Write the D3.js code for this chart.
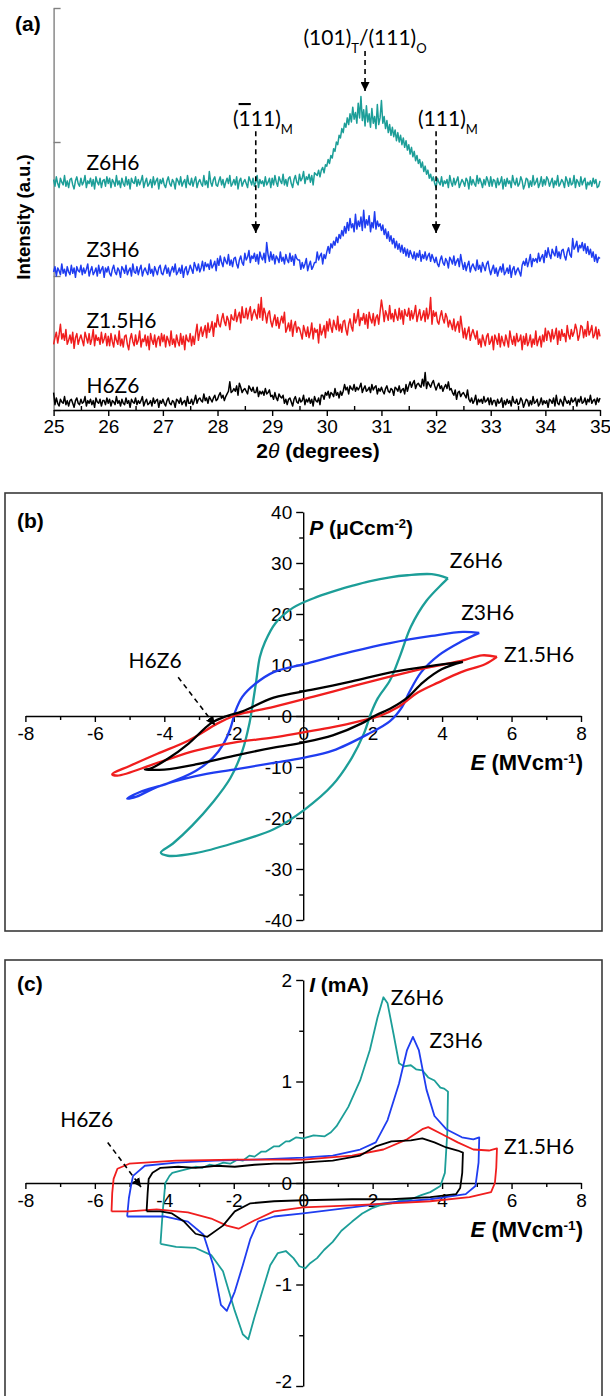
<!DOCTYPE html>
<html>
<head>
<meta charset="utf-8">
<script src="https://cdnjs.cloudflare.com/ajax/libs/d3/7.8.5/d3.min.js"></script>
<style>
  body { margin: 0; background: #fff; }
  text { font-family: "Liberation Sans", Arial, sans-serif; }
</style>
</head>
<body>
<div id="chart"></div>
<script>
// ---------- (a) XRD, 2theta from 25 to 35 in steps of 0.025 deg (a.u., offset as plotted)
var xrdStart = 25, xrdStep = 0.025;

var xrdZ6H6 = [
  172,167,174,169,166,173,170,168,175,167,171,166,172,173,168,165,171,174,169,167,173,168,170,175,166,171,169,173,167,172,165,174,170,168,173,166,171,172,167,174,
  169,173,166,172,170,167,175,168,171,166,173,169,167,174,168,172,165,173,170,169,174,167,172,168,171,175,166,170,173,167,169,172,166,174,168,171,173,165,172,169,
  173,168,166,171,174,169,167,172,170,165,173,171,168,174,167,170,172,166,175,169,168,173,167,171,174,166,170,172,169,167,175,168,171,166,178,170,167,172,174,168,
  167,171,174,168,172,166,170,173,169,175,167,169,172,168,174,165,171,173,167,170,172,169,166,174,171,168,173,167,170,175,166,172,169,171,167,174,168,170,173,166,
  173,168,175,170,167,174,171,169,176,168,172,167,173,174,169,166,172,175,170,168,176,171,173,178,169,174,172,176,170,175,168,177,176,175,179,174,179,181,177,183,
  182,187,184,190,188,195,193,200,198,205,203,210,207,214,211,218,213,221,215,226,217,222,214,229,218,234,216,224,212,227,215,221,211,225,214,219,210,228,213,218,
  231,214,219,210,216,207,213,205,211,204,209,201,207,200,205,198,203,196,201,194,198,191,196,189,193,186,190,184,187,181,185,178,182,176,179,173,176,171,174,169,
  166,173,170,168,174,167,171,169,172,166,175,170,167,173,168,171,174,166,169,172,170,167,173,171,165,174,168,172,169,167,175,169,173,170,166,172,168,174,171,167,
  174,167,172,171,166,173,168,170,174,165,172,167,173,169,171,166,175,170,168,173,167,169,174,171,165,168,173,172,166,171,167,175,168,170,173,166,169,174,167,172,
  168,174,172,167,170,173,166,171,168,175,167,169,172,170,166,174,171,167,173,168,169,175,166,172,170,167,174,168,171,173,165,170,168,171,167,173,169,172,166,167,
  171
];

var xrdZ3H6 = [
  103,107,100,106,104,101,109,102,105,100,107,103,101,108,102,106,99,107,104,103,108,101,106,102,105,109,100,104,107,101,103,106,100,108,102,105,107,99,106,103,
  107,102,100,105,108,103,101,106,104,99,107,105,102,108,101,104,106,100,109,103,102,107,101,105,108,100,104,106,103,101,109,102,105,100,107,104,101,106,108,102,
  101,105,108,102,106,100,104,107,103,109,101,103,106,102,108,99,105,107,101,104,108,105,102,110,107,104,109,103,106,111,104,110,107,109,105,112,106,108,111,104,
  113,108,115,110,107,114,111,109,116,108,112,107,113,114,109,106,112,115,110,108,117,112,114,119,110,115,113,117,111,116,109,118,114,112,117,110,125,116,111,118,
  112,116,109,115,113,110,118,111,114,109,116,112,110,117,111,115,108,116,113,112,112,105,110,106,109,113,104,108,111,105,107,110,110,118,112,115,117,109,116,113,
  118,122,117,124,121,126,123,129,125,131,128,134,130,137,132,140,134,143,136,139,133,146,135,141,137,144,134,149,136,142,138,145,133,140,136,148,135,141,137,139,
  134,138,131,135,128,133,126,130,124,128,121,126,120,124,118,123,117,121,115,120,114,119,116,113,118,112,117,114,119,111,116,113,118,112,115,117,111,116,113,110,
  114,109,107,112,115,110,108,113,111,106,114,112,109,115,108,111,113,107,116,110,105,110,104,108,111,103,107,109,106,104,112,105,108,103,110,107,104,109,111,105,
  101,105,108,102,106,100,104,107,103,109,101,103,106,102,108,99,105,107,101,104,106,103,100,108,111,108,113,107,111,116,107,113,111,113,110,117,111,114,116,110,
  119,114,121,116,113,120,117,115,122,114,118,113,119,120,115,112,118,121,116,114,128,120,122,126,118,123,121,125,119,124,117,122,116,120,114,118,111,116,110,114,
  113
];

var xrdZ15H6 = [
  49,54,58,50,56,64,53,57,52,60,49,52,56,50,58,46,54,57,49,53,56,52,48,58,54,50,57,49,53,60,48,56,52,54,49,58,50,53,57,48,
  55,48,57,51,47,56,52,49,59,48,53,47,55,56,49,45,53,57,51,48,56,49,52,59,47,53,51,56,48,55,45,57,52,49,56,47,53,55,48,57,
  51,56,47,55,52,48,59,49,53,47,56,51,48,57,49,55,45,56,52,51,57,48,55,49,57,64,52,58,62,55,59,63,54,65,58,61,66,55,65,62,
  71,64,62,68,72,66,63,70,67,60,71,68,67,75,66,70,73,65,77,69,69,76,68,73,77,67,72,75,71,68,79,69,84,67,76,72,65,72,74,66,
  62,67,71,63,69,61,66,70,65,73,58,61,65,59,67,55,63,66,58,62,61,57,53,63,59,55,62,54,58,65,53,61,58,60,50,64,56,59,63,54,
  66,59,68,62,58,67,63,60,70,59,64,58,66,67,60,56,64,68,62,59,72,65,68,75,63,69,67,72,64,71,61,73,68,65,72,63,69,71,64,73,
  82,75,66,74,71,67,78,68,72,66,75,70,67,76,68,74,64,75,71,70,76,67,74,68,72,78,66,71,75,67,70,74,66,76,68,72,84,64,74,70,
  73,66,64,70,74,68,65,72,69,62,67,64,60,68,59,63,66,58,70,62,54,61,53,58,62,52,57,60,56,53,59,49,53,47,56,52,48,55,57,49,
  51,55,45,56,53,49,57,47,55,51,48,56,52,47,59,53,49,55,48,57,51,52,56,45,55,49,57,48,51,56,47,53,49,59,48,52,55,47,56,51,
  61,52,59,57,51,60,53,56,61,49,59,52,60,55,57,51,63,56,53,60,55,58,64,60,52,56,63,62,54,60,55,66,56,59,63,54,56,62,53,60,
  55
];

var xrdH6Z6 = [
  13,4,9,5,3,8,6,5,10,4,7,3,7,8,5,2,7,9,5,4,8,5,6,10,3,7,5,8,4,7,2,9,6,5,8,3,7,7,4,9,
  5,8,3,7,6,4,10,5,7,3,8,5,4,9,5,7,2,8,6,5,9,4,7,5,7,10,3,6,8,4,5,7,3,9,5,7,8,2,7,5,
  8,5,3,7,9,5,4,7,6,2,8,7,5,9,4,6,7,3,10,5,5,8,4,7,11,5,8,9,7,6,12,7,9,5,10,8,6,9,11,7,
  8,11,13,9,11,7,10,12,14,21,13,14,16,14,18,11,20,17,13,15,16,14,12,18,16,14,17,13,13,17,10,14,12,14,11,16,12,13,15,10,
  11,8,13,9,7,12,10,9,11,5,8,4,8,9,6,3,8,10,6,5,9,6,7,11,4,8,6,9,5,8,3,10,7,6,9,4,11,11,8,13,
  11,14,9,13,12,10,16,11,13,9,14,11,14,19,15,17,12,18,16,15,19,14,17,15,17,20,13,16,18,14,15,17,13,19,15,17,18,12,16,14,
  17,14,12,16,18,14,13,16,15,11,17,16,14,18,13,15,16,12,19,14,18,21,17,20,22,16,19,20,18,17,23,18,28,16,21,19,17,20,22,18,
  15,18,20,16,18,14,17,19,16,21,15,16,13,11,15,8,13,14,10,12,13,11,9,15,8,6,9,5,7,11,4,8,6,8,5,10,6,7,9,4,
  9,4,7,7,3,8,5,6,9,2,7,4,8,5,7,3,10,6,5,8,4,5,9,7,2,5,8,7,3,7,4,10,5,6,8,3,5,9,4,7,
  5,7,2,8,7,5,9,3,11,5,4,8,6,3,10,7,5,7,4,9,6,7,9,3,8,6,10,5,6,9,4,8,6,11,5,7,8,4,9,6,
  9
];

var xrdTicks = [25, 26, 27, 28, 29, 30, 31, 32, 33, 34, 35];
var xrdPeaks = [28.7, 30.7, 32.0];

// ---------- (b) P-E loops, [E (MV/cm), P (uC/cm2)]
var peZ6H6 = [[4.17,27.0],[3.7,27.8],[3.0,27.6],[2.5,27.2],[1.9,26.4],[1.4,25.5],[0.8,24.3],[0.3,23.1],
  [-0.3,21.2],[-0.8,18.2],[-1.1,14.5],[-1.25,11.5],[-1.35,7.0],[-1.45,2.5],[-1.55,-1.5],[-1.75,-6.8],
  [-2.1,-12.2],[-2.6,-16.9],[-3.2,-21.5],[-3.75,-25.0],[-4.1,-26.8],[-3.9,-27.4],[-3.1,-26.9],[-2.0,-24.9],
  [-0.85,-22.2],[0.05,-18.3],[0.85,-13.5],[1.4,-8.2],[1.75,-3.4],[1.95,0.5],[2.15,3.5],[2.5,7.0],
  [2.8,12.0],[3.1,17.5],[3.55,22.6],[4.17,27.0]];
var peZ3H6 = [[5.07,16.3],[4.6,16.5],[3.7,15.7],[2.5,14.3],[1.4,12.6],[0.05,10.2],[-0.85,8.6],[-1.4,6.2],
  [-1.75,3.8],[-1.95,1.0],[-2.1,-2.5],[-2.3,-5.5],[-2.6,-8.2],[-3.1,-10.8],[-3.9,-13.2],[-4.7,-14.9],
  [-5.07,-16.2],[-4.8,-15.8],[-4.2,-13.9],[-3.1,-11.8],[-2.0,-10.5],[-0.85,-9.2],[0,-8.2],[0.85,-6.8],
  [1.85,-3.6],[2.5,-1.0],[2.85,1.8],[3.05,4.6],[3.4,8.6],[3.9,11.9],[4.55,14.6],[5.07,16.3]];
var peZ15H6 = [[5.58,11.6],[5.15,11.9],[4.55,10.8],[3.65,9.6],[2.55,7.8],[1.4,5.8],[0.3,3.8],[-0.85,1.8],
  [-1.75,0.5],[-2.0,0],[-2.45,-1.4],[-3.3,-4.8],[-4.2,-7.4],[-5.0,-9.8],[-5.5,-11.4],[-5.35,-11.7],
  [-4.2,-9.2],[-3.1,-6.8],[-2.0,-5.2],[-0.85,-4.2],[0,-3.2],[0.85,-2.2],[1.75,-0.8],[2.2,0],
  [2.75,1.8],[3.3,4.6],[3.9,6.6],[4.55,8.6],[5.25,10.2],[5.58,11.6]];
var peH6Z6 = [[4.6,10.6],[3.65,9.8],[2.55,8.6],[1.4,6.8],[0.3,5.2],[-0.85,3.6],[-1.75,0.9],[-2.2,0],
  [-2.65,-1.4],[-3.3,-5.4],[-3.9,-8.4],[-4.4,-10.3],[-4.56,-10.5],[-4.0,-10.5],[-3.1,-9.5],[-2.0,-7.8],
  [-0.85,-6.2],[0,-5.2],[0.85,-3.8],[1.7,-1.4],[2.05,0],[2.55,1.6],[3.0,3.6],[3.45,6.6],[4.0,9.2],[4.6,10.6]];

// ---------- (c) I-E curves, [E (MV/cm), I (mA)]
var ieZ6H6 = [[-4.11,-0.6],[-4.05,-0.3],[-3.97,0],[-3.85,0.07],[-3.77,0.1],[-3.55,0.12],[-3.32,0.14],[-3.1,0.16],
  [-2.9,0.15],[-2.7,0.18],[-2.54,0.17],[-2.3,0.2],[-2.1,0.19],[-1.9,0.23],[-1.74,0.22],[-1.55,0.27],[-1.4,0.26],
  [-1.2,0.31],[-1.07,0.31],[-0.85,0.36],[-0.7,0.36],[-0.5,0.41],[-0.4,0.41],[-0.2,0.45],[0,0.44],[0.3,0.47],
  [0.62,0.46],[0.8,0.5],[0.96,0.56],[1.3,0.75],[1.64,1.01],[1.92,1.31],[2.14,1.63],[2.31,1.83],[2.43,1.77],
  [2.6,1.47],[2.76,1.18],[2.9,1.15],[3.1,1.16],[3.25,1.12],[3.43,1.11],[3.6,1.04],[3.78,1.01],[3.95,0.94],
  [4.06,0.93],[4.17,0.9],[4.15,0.5],[4.08,0.1],[3.95,-0.03],[3.66,-0.09],[3.4,-0.12],[3.1,-0.16],[2.8,-0.17],
  [2.54,-0.2],[2.2,-0.22],[1.97,-0.25],[1.7,-0.3],[1.41,-0.38],[1.1,-0.47],[0.85,-0.58],[0.6,-0.66],[0.4,-0.74],
  [0.2,-0.79],[0.06,-0.84],[-0.11,-0.82],[-0.28,-0.74],[-0.5,-0.67],[-0.73,-0.69],[-0.95,-0.81],[-1.18,-1.07],
  [-1.41,-1.33],[-1.58,-1.54],[-1.74,-1.49],[-1.97,-1.26],[-2.31,-0.87],[-2.65,-0.71],[-3.1,-0.64],
  [-3.66,-0.63],[-4.11,-0.6]];
var ieZ3H6 = [[-5.07,-0.33],[-5.02,-0.15],[-4.96,-0.03],[-4.9,0.07],[-4.56,0.17],[-3.66,0.2],[-2.54,0.22],
  [-1.41,0.23],[0,0.25],[0.85,0.27],[1.64,0.33],[2.09,0.4],[2.43,0.62],[2.76,0.98],[2.99,1.31],[3.16,1.44],
  [3.33,1.31],[3.55,0.92],[3.78,0.66],[4.12,0.53],[4.57,0.45],[4.9,0.43],[5.07,0.45],[5.05,0.2],[4.96,-0.03],
  [4.68,-0.11],[3.66,-0.16],[2.54,-0.19],[1.41,-0.24],[0,-0.3],[-0.84,-0.33],[-1.3,-0.38],[-1.52,-0.55],
  [-1.74,-0.81],[-1.97,-1.07],[-2.2,-1.26],[-2.37,-1.2],[-2.59,-0.81],[-2.87,-0.51],[-3.32,-0.38],
  [-4.0,-0.33],[-4.79,-0.33],[-5.07,-0.33]];
var ieZ15H6 = [[-5.52,-0.28],[-5.5,-0.1],[-5.46,0.04],[-5.35,0.14],[-5.01,0.19],[-3.66,0.22],[-1.97,0.23],
  [0,0.23],[1.41,0.27],[2.31,0.33],[2.99,0.43],[3.43,0.53],[3.6,0.55],[4.0,0.48],[4.45,0.4],[4.9,0.33],
  [5.35,0.32],[5.58,0.34],[5.56,0.15],[5.52,0.0],[5.41,-0.09],[4.79,-0.14],[3.66,-0.18],[2.54,-0.2],
  [1.41,-0.22],[0,-0.24],[-0.84,-0.28],[-1.41,-0.37],[-1.86,-0.45],[-2.2,-0.42],[-2.65,-0.35],
  [-3.32,-0.29],[-4.22,-0.26],[-5.01,-0.28],[-5.52,-0.28]];
var ieH6Z6 = [[-4.51,-0.28],[-4.48,-0.1],[-4.45,0.04],[-4.34,0.1],[-4.11,0.15],[-3.6,0.16],[-3.1,0.15],
  [-2.5,0.17],[-1.97,0.16],[-1.4,0.18],[-0.84,0.19],[-0.4,0.19],[0,0.2],[0.4,0.21],[0.85,0.22],[1.64,0.27],
  [2.09,0.36],[2.54,0.41],[3.1,0.42],[3.43,0.44],[3.78,0.4],[4.12,0.35],[4.45,0.32],[4.6,0.3],[4.58,0.1],
  [4.52,-0.05],[4.4,-0.11],[3.66,-0.14],[2.54,-0.16],[1.41,-0.16],[0,-0.17],[-0.84,-0.18],[-1.52,-0.2],
  [-1.97,-0.28],[-2.31,-0.42],[-2.76,-0.53],[-3.1,-0.5],[-3.43,-0.38],[-3.78,-0.3],[-4.11,-0.28],[-4.51,-0.28]];

var eTicks = [-8, -6, -4, -2, 0, 2, 4, 6, 8];
var eMinor = [-7, -5, -3, -1, 1, 3, 5, 7];
var pTicks = [-40, -30, -20, -10, 0, 10, 20, 30, 40];
var pMinor = [-35, -25, -15, -5, 5, 15, 25, 35];
var iTicks = [-2, -1, 0, 1, 2];
var iMinor = [-1.5, -0.5, 0.5, 1.5];

// Some global parameters
var width = 610;
var height = 1396;
var colors = {Z6H6: "#1c9e98", Z3H6: "#1f3df0", Z15H6: "#f01e1e", H6Z6: "#000000"};
var labelFont = "Lato, 'Open Sans', sans-serif";
var labelSize = 21;
var tickSize = 19;

const svg = d3.select("#chart").append("svg")
              .attr("width", width).attr("height", height)
              .style("background", "#fff");

svg.append("defs").append("marker")
   .attr("id", "arrowhead").attr("viewBox", "0 0 10 10")
   .attr("refX", 10).attr("refY", 5)
   .attr("markerWidth", 9).attr("markerHeight", 9)
   .attr("markerUnits", "userSpaceOnUse").attr("orient", "auto")
   .append("path").attr("d", "M0,0L10,5L0,10Z").attr("fill", "#000");

// text made of styled pieces (italic, sub/superscript, overline)
function richText(x, y, parts, size, anchor, family) {
  var t = svg.append("text").attr("x", x).attr("y", y)
             .attr("font-size", size).attr("text-anchor", anchor || "start")
             .attr("fill", "#000");
  if (family) t.style("font-family", family);
  parts.forEach(function(p) {
    var s = t.append("tspan").text(p.t);
    if (p.italic) s.attr("font-style", "italic");
    if (p.bold) s.attr("font-weight", "bold");
    if (p.sup) s.attr("baseline-shift", "super").attr("font-size", "62%");
    if (p.sub) s.attr("baseline-shift", "sub").attr("font-size", "62%");
    if (p.over) s.style("text-decoration", "overline");
  });
  return t;
}

function label(x, y, txt) {
  return svg.append("text").attr("x", x).attr("y", y).attr("font-size", labelSize)
            .style("font-family", labelFont).text(txt);
}

function arrow(x1, y1, x2, y2) {
  svg.append("line").attr("x1", x1).attr("y1", y1).attr("x2", x2).attr("y2", y2)
     .attr("stroke", "#000").attr("stroke-width", 1.6)
     .attr("stroke-dasharray", "5,4").attr("marker-end", "url(#arrowhead)");
}

function styleAxis(g, size) {
  g.attr("font-family", "'Liberation Sans', Arial, sans-serif")
   .attr("font-size", size).style("color", "#000");
  g.selectAll("path, line").attr("stroke-width", 1.4);
}

// =================== (a) XRD ===================
var xA = d3.scaleLinear().domain([25, 35]).range([53.6, 600]);
var yA = d3.scaleLinear().domain([0, 300]).range([410, 8]);

var gyA = svg.append("g").attr("transform", "translate(" + xA(25) + ",0)")
   .call(d3.axisRight(yA).tickValues([0, 100, 200, 300]).tickSize(7).tickSizeOuter(0).tickFormat(""));
styleAxis(gyA, 17);
gyA.style("color", "#808080");

var gxA = svg.append("g").attr("transform", "translate(0," + yA(0) + ")")
   .call(d3.axisBottom(xA).tickValues(xrdTicks).tickSize(6).tickSizeOuter(0).tickPadding(4).tickFormat(d3.format("d")));
styleAxis(gxA, tickSize);

var gxAm = svg.append("g").attr("transform", "translate(0," + yA(0) + ")")
   .call(d3.axisTop(xA).tickValues(xrdTicks.slice(0, -1).map(d => d + 0.5)).tickSize(4).tickFormat(""));
gxAm.select(".domain").remove();
styleAxis(gxAm, 10);

var xrdLine = d3.line()
    .x((d, i) => xA(xrdStart + i * xrdStep))
    .y(d => yA(d));

[[xrdH6Z6, colors.H6Z6], [xrdZ15H6, colors.Z15H6], [xrdZ3H6, colors.Z3H6], [xrdZ6H6, colors.Z6H6]]
  .forEach(function(s) {
    svg.append("path").datum(s[0]).attr("d", xrdLine)
       .attr("fill", "none").attr("stroke", s[1]).attr("stroke-width", 1.5)
       .attr("stroke-linejoin", "round");
  });

// series labels
label(xA(25.6), yA(179), "Z6H6");
label(xA(25.6), yA(114), "Z3H6");
label(xA(25.6), yA(61), "Z1.5H6");
label(xA(25.6), yA(13), "H6Z6");

// peak markers
arrow(xA(xrdPeaks[1]), yA(268), xA(xrdPeaks[1]), yA(238));
arrow(xA(xrdPeaks[0]), yA(208), xA(xrdPeaks[0]), yA(132));
arrow(xA(xrdPeaks[2]), yA(208), xA(xrdPeaks[2]), yA(132));

richText(xA(30.7), 45, [{t: "(101)"}, {t: "T", sub: true}, {t: "/(111)"}, {t: "O", sub: true}], labelSize, "middle", labelFont);
richText(233, 126, [{t: "("}, {t: "1", over: true}, {t: "11)"}, {t: "M", sub: true}], labelSize, "start", labelFont);
richText(418, 126, [{t: "(111)"}, {t: "M", sub: true}], labelSize, "start", labelFont);

// axis titles
richText(318, 458, [{t: "2", bold: true}, {t: "θ", italic: true}, {t: " (degrees)", bold: true}], 21, "middle");
svg.append("text").attr("transform", "translate(30,217) rotate(-90)")
   .attr("text-anchor", "middle").attr("font-size", 18.5).attr("font-weight", "bold")
   .text("Intensity (a.u.)");
svg.append("text").attr("x", 15).attr("y", 31).attr("font-size", 21).attr("font-weight", "bold").text("(a)");

// =================== shared for (b) and (c) ===================
function loopPanel(top, boxH, yScale, yTicks, yMinorTicks, eTitleY) {
  svg.append("rect").attr("x", 5).attr("y", top).attr("width", 597).attr("height", boxH)
     .attr("fill", "none").attr("stroke", "#3a3a3a").attr("stroke-width", 1.6);

  var xS = d3.scaleLinear().domain([-8, 8]).range([25.4, 581]);

  var gy = svg.append("g").attr("transform", "translate(" + xS(0) + ",0)")
     .call(d3.axisLeft(yScale).tickValues(yTicks).tickSize(7).tickSizeOuter(0).tickPadding(4).tickFormat(d => d));
  styleAxis(gy, tickSize);
  var gym = svg.append("g").attr("transform", "translate(" + xS(0) + ",0)")
     .call(d3.axisLeft(yScale).tickValues(yMinorTicks).tickSize(4).tickFormat(""));
  gym.select(".domain").remove();
  styleAxis(gym, 10);

  var gx = svg.append("g").attr("transform", "translate(0," + yScale(0) + ")")
     .call(d3.axisBottom(xS).tickValues(eTicks).tickSize(6).tickSizeOuter(0).tickPadding(5).tickFormat(d => d));
  styleAxis(gx, tickSize);
  var gxm = svg.append("g").attr("transform", "translate(0," + yScale(0) + ")")
     .call(d3.axisBottom(xS).tickValues(eMinor).tickSize(4).tickFormat(""));
  gxm.select(".domain").remove();
  styleAxis(gxm, 10);

  richText(583, eTitleY, [{t: "E", italic: true, bold: true}, {t: " (MVcm", bold: true},
           {t: "-1", sup: true, bold: true}, {t: ")", bold: true}], 22, "end");
  return [xS, gy];
}

// =================== (b) P-E ===================
var yB = d3.scaleLinear().domain([-40, 40]).range([920, 512]);
var xB = loopPanel(493, 438, yB, pTicks, pMinor, 770)[0];

var peLine = d3.line().x(d => xB(d[0])).y(d => yB(d[1])).curve(d3.curveCatmullRom.alpha(0.5));
[[peZ6H6, colors.Z6H6], [peZ3H6, colors.Z3H6], [peZ15H6, colors.Z15H6], [peH6Z6, colors.H6Z6]]
  .forEach(function(s) {
    svg.append("path").datum(s[0]).attr("d", peLine)
       .attr("fill", "none").attr("stroke", s[1]).attr("stroke-width", 2.3);
  });

label(xB(4.22), yB(29.1), "Z6H6");
label(xB(4.55), yB(18.9), "Z3H6");
label(xB(5.78), yB(10.6), "Z1.5H6");
label(xB(-5.03), yB(9.4), "H6Z6");
arrow(xB(-3.6), yB(7.6), xB(-2.54), yB(-1.8));

richText(xB(0) + 6, 535, [{t: "P", italic: true, bold: true}, {t: " (μCcm", bold: true},
         {t: "-2", sup: true, bold: true}, {t: ")", bold: true}], 21, "start");
svg.append("text").attr("x", 17).attr("y", 528).attr("font-size", 21).attr("font-weight", "bold").text("(b)");

// =================== (c) I-E ===================
var yC = d3.scaleLinear().domain([-2, 2]).range([1386, 980]);
var panelC = loopPanel(960, 470, yC, iTicks, iMinor, 1237);
var xC = panelC[0];
// bottom tick label sits on the picture edge: lift it a little
panelC[1].selectAll(".tick text").filter(d => d === -2).attr("dy", "0.1em");

var ieLine = d3.line().x(d => xC(d[0])).y(d => yC(d[1]));
[[ieZ6H6, colors.Z6H6], [ieZ3H6, colors.Z3H6], [ieZ15H6, colors.Z15H6], [ieH6Z6, colors.H6Z6]]
  .forEach(function(s) {
    svg.append("path").datum(s[0]).attr("d", ieLine)
       .attr("fill", "none").attr("stroke", s[1]).attr("stroke-width", 1.8)
       .attr("stroke-linejoin", "round");
  });

label(xC(2.52), yC(1.75), "Z6H6");
label(xC(3.64), yC(1.33), "Z3H6");
label(xC(5.78), yC(0.29), "Z1.5H6");
label(xC(-7.0), yC(0.55), "H6Z6");
arrow(xC(-5.63), yC(0.4), xC(-4.67), yC(-0.04));

richText(xC(0) + 6, 992, [{t: "I", italic: true, bold: true}, {t: " (mA)", bold: true}], 21, "start");
svg.append("text").attr("x", 17).attr("y", 991).attr("font-size", 21).attr("font-weight", "bold").text("(c)");
</script>
</body>
</html>
